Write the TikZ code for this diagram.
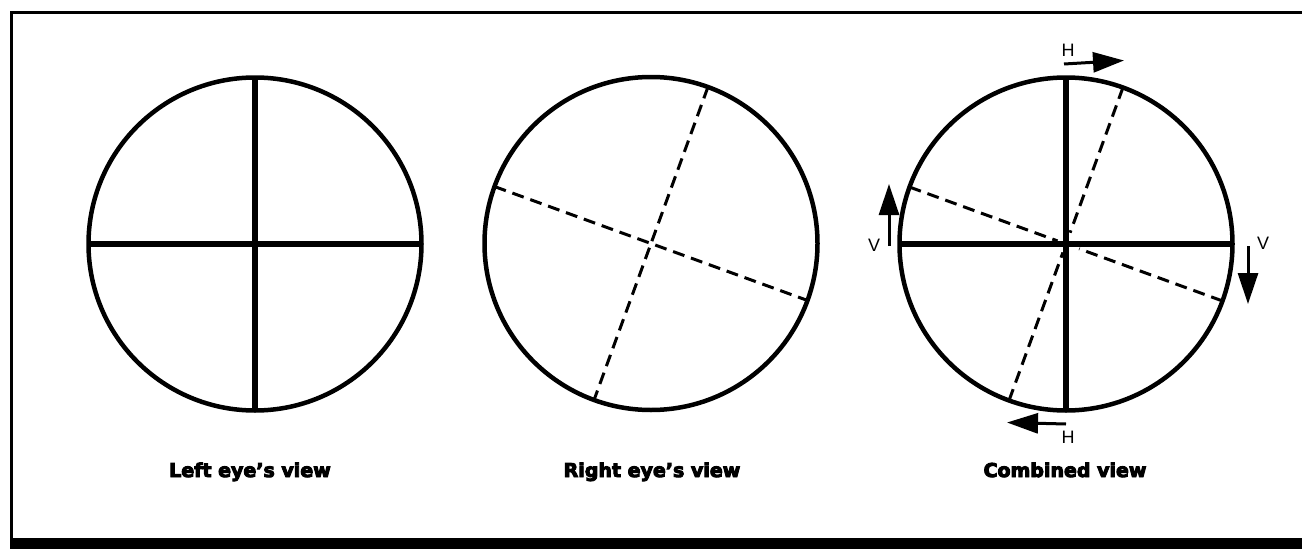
\documentclass[tikz,border=0pt]{standalone}
\usepackage{fontspec}
\setmainfont{Liberation Sans}
\newfontfamily\capfont{DejaVu Sans}[UprightFont={* Bold}, FakeBold=5]
\usetikzlibrary{arrows.meta,calc}
\tikzset{
  eye/.style={circle, draw, line width=4.5pt, minimum size=333pt, inner sep=0pt, outer sep=0pt},
  crossline/.style={line width=6.5pt},
  rotdash/.style={line width=3pt, dash pattern=on 12pt off 7pt},
  motion/.style={line width=3pt, -{Triangle[length=31pt,width=20pt]}},
  caption/.style={anchor=base, inner sep=0pt, font=\capfont\fontsize{19}{22}\selectfont},
  axislabel/.style={inner sep=0pt, font=\fontsize{18}{20}\selectfont}
}
\begin{document}
\begin{tikzpicture}[x=1pt,y=-1pt]
\useasboundingbox (0,0) rectangle (1302,549);
\fill[white] (0,0) rectangle (1302,549);
% frame
\draw[line width=3pt] (11.5,549) -- (11.5,12) -- (1302,12);
\fill (10,538) rectangle (1302,549);

% left eye
\node[eye] (L) at (255,244) {};
\draw[crossline] (L.north) -- (L.south);
\draw[crossline] (L.west) -- (L.east);
\node[caption] (Lcap) at (250,477) {Left eye’s view};

% right eye
\node[eye] (R) at (651,243.5) {};
\draw[rotdash] (R.70.5) -- (R.250.5);
\draw[rotdash] (R.160.5) -- (R.340.5);
\node[caption] (Rcap) at (652,477) {Right eye’s view};

% combined
\node[eye] (C) at (1066,244) {};
\draw[crossline] (C.north) -- (C.south);
\draw[crossline] (C.west) -- (C.east);
\draw[rotdash] (C.70.5) -- ($(C.center)!12pt!(C.70.5)$);
\draw[rotdash] (C.250.5) -- ($(C.center)!9pt!(C.250.5)$);
\draw[rotdash] (C.160.5) -- ($(C.center)!9pt!(C.160.5)$);
\draw[rotdash] (C.340.5) -- ($(C.center)!14pt!(C.340.5)$);
\node[caption] (Ccap) at (1065,477) {Combined view};

% motion arrows
\coordinate (htops) at (1064,64);
\coordinate (htope) at (1124,60.5);
\draw[motion] (htops) -- (htope);
\node[axislabel] (Htop) at (1068,50) {H};

\coordinate (hbots) at (1066,424);
\coordinate (hbote) at (1007,422.5);
\draw[motion] (hbots) -- (hbote);
\node[axislabel] (Hbot) at (1068,437) {H};

\coordinate (vls) at (889,246);
\coordinate (vle) at (889,184);
\draw[motion] (vls) -- (vle);
\node[axislabel] (Vl) at (874,245) {V};

\coordinate (vrs) at (1248,246);
\coordinate (vre) at (1248,304);
\draw[motion] (vrs) -- (vre);
\node[axislabel] (Vr) at (1263,243) {V};
\end{tikzpicture}
\end{document}
